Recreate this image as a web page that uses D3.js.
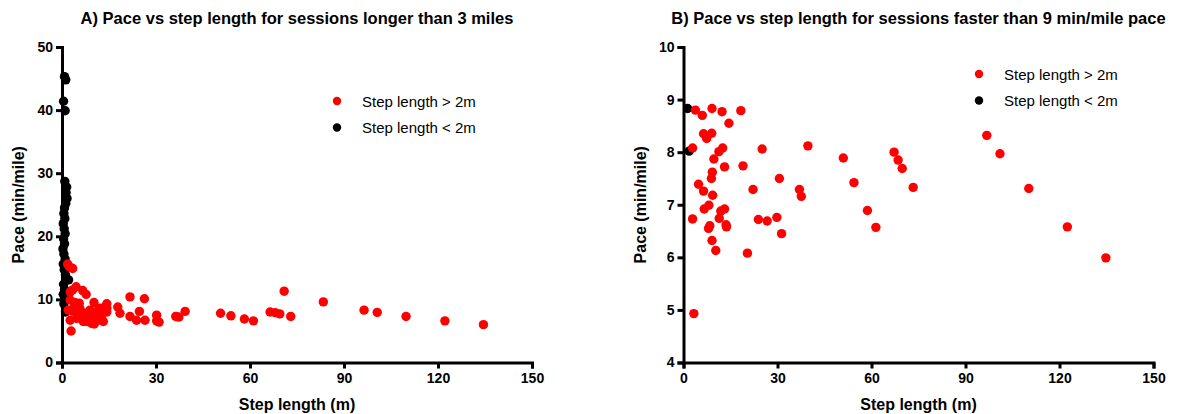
<!DOCTYPE html>
<html lang="en">
<head>
  <meta charset="UTF-8">
  <title>Pace vs step length</title>
  <script src="https://d3js.org/d3.v7.min.js"></script>
  <style>
    body { margin: 0; background: #fff; font-family: "Liberation Sans", Arial, sans-serif; }
    .title { font-size: 16.5px; font-weight: bold; }
    .axis-label { font-size: 16px; font-weight: bold; }
    .legend { font-size: 15px; }
    .axis path, .axis line { stroke: #000; stroke-width: 3px; }
    .axis text { font-size: 14px; font-weight: bold; font-family: "Liberation Sans", Arial, sans-serif; fill: #000; }
  </style>
</head>
<body>
<svg width="1184" height="414"></svg>

<script>
// Panel A: sessions longer than 3 miles  [step length (m), pace (min/mile)]
const aRed = [
  [1.8,15.6],[2.3,15.2],[3.4,14.9],[4.5,12.0],[2.6,11.2],[3.4,11.5],[6.6,11.4],[7.7,10.8],
  [2.6,9.9],[4.1,9.5],[5.5,9.4],[10.2,9.5],[14.3,9.3],[21.7,10.4],[26.3,10.1],[70.9,11.3],[83.4,9.6],
  [17.8,8.8],[18.5,7.8],[24.7,8.1],[21.7,7.3],[23.8,6.7],[26.5,6.7],[30.2,7.5],[30.2,6.6],[31.0,6.4],
  [36.3,7.3],[37.3,7.2],[39.3,8.1],[2.9,5.0],[2.6,6.7],[3.6,8.1],[2.0,8.3],[5.7,7.5],[7.3,7.8],
  [8.9,8.3],[11.1,8.1],[12.1,8.6],[13.7,8.8],[10.0,7.3],[8.4,7.0],[6.8,6.5],[9.5,6.2],[11.6,6.7],
  [13.2,6.5],[4.7,7.0],[5.7,8.6],[3.8,8.8],[14.3,8.0],[12.7,7.5],[7.9,6.5],[10.3,6.1],[9.1,7.6],
  [6.4,7.3],[14.3,8.6],
  [50.6,7.8],[53.9,7.4],[58.2,6.9],[61.1,6.6],[66.4,8.0],[68.0,7.9],[69.5,7.7],[73.0,7.3],
  [96.4,8.3],[100.6,7.95],[109.8,7.3],[122.2,6.6],[134.5,6.0]
];
const aBlack = [
  [0.8,45.3],[1.2,44.8],[0.5,41.4],[1.0,39.9],[0.9,28.7],[1.5,27.8],[1.3,26.9],[1.6,26.0],
  [1.2,25.2],[0.8,24.5],[0.6,23.6],[0.9,22.8],[0.4,22.0],[0.7,21.2],[1.0,20.4],[0.5,19.6],
  [0.8,18.8],[0.3,18.0],[0.6,17.2],[1.0,16.4],[0.4,15.6],[0.7,14.7],[1.1,13.9],[2.1,13.1],
  [0.5,12.4],[0.8,11.6],[0.4,10.8],[0.9,10.0],[0.6,9.3],[1.1,8.0]
];

// Panel B: sessions faster than 9 min/mile pace
const bRed = [
  [3.8,8.80],[6.0,8.70],[9.1,8.83],[12.3,8.77],[18.3,8.79],[14.5,8.55],[6.4,8.35],[9.0,8.36],
  [7.4,8.26],[2.9,8.08],[12.5,8.08],[11.3,8.01],[25.1,8.06],[39.7,8.12],[9.7,7.87],[13.1,7.72],
  [19.0,7.74],[9.2,7.62],[8.9,7.50],[30.6,7.50],[4.8,7.39],[6.4,7.26],[22.2,7.29],[37.0,7.29],
  [9.3,7.18],[37.6,7.16],[6.6,6.92],[8.1,6.99],[2.9,6.73],[11.9,6.88],[13.1,6.92],[11.4,6.74],
  [8.0,6.55],[8.4,6.60],[13.6,6.62],[13.7,6.58],[9.1,6.32],[10.3,6.13],[20.4,6.08],[23.9,6.72],
  [26.7,6.69],[29.8,6.76],[31.3,6.45],[3.3,4.93],
  [51.0,7.89],[54.4,7.42],[58.7,6.89],[61.4,6.57],[67.2,8.00],[68.5,7.85],[69.8,7.69],[73.3,7.33],
  [96.8,8.32],[101.0,7.97],[110.2,7.31],[122.5,6.58],[134.8,5.99]
];
const bBlack = [[1.3,8.83],[1.8,8.02]];

const xTicks = [0, 30, 60, 90, 120, 150];
const aYTicks = [0, 10, 20, 30, 40, 50];
const bYTicks = [4, 5, 6, 7, 8, 9, 10];
const legendLabels = ["Step length > 2m", "Step length < 2m"];
const colors = ["#ff0000", "#000000"];

const svg = d3.select("svg");
const plotTop = 47, plotBottom = 362.5;

const panels = [
  { left: 62, title: "A) Pace vs step length for sessions longer than 3 miles",
    yDomain: [0, 50], yTicks: aYTicks, red: aRed, black: aBlack, legend: [337, 101] },
  { left: 683.5, title: "B) Pace vs step length for sessions faster than 9 min/mile pace",
    yDomain: [4, 10], yTicks: bYTicks, red: bRed, black: bBlack, legend: [979, 74] }
];

panels.forEach(p => {
  const x = d3.scaleLinear().domain([0, 150]).range([p.left, p.left + 470]);
  const y = d3.scaleLinear().domain(p.yDomain).range([plotBottom, plotTop]);

  svg.append("text")
    .attr("class", "title")
    .attr("x", p.left + 235)
    .attr("y", 24)
    .attr("text-anchor", "middle")
    .text(p.title);

  // Axes
  svg.append("g")
    .attr("class", "axis")
    .attr("transform", `translate(0,${plotBottom})`)
    .call(d3.axisBottom(x).tickValues(xTicks).tickFormat(d3.format("d"))
      .tickSizeOuter(0).tickSize(6).tickPadding(5));

  svg.append("g")
    .attr("class", "axis")
    .attr("transform", `translate(${p.left},0)`)
    .call(d3.axisLeft(y).tickValues(p.yTicks).tickFormat(d3.format("d"))
      .tickSizeOuter(0).tickSize(6).tickPadding(3));

  svg.append("text")
    .attr("class", "axis-label")
    .attr("x", p.left + 235)
    .attr("y", 410)
    .attr("text-anchor", "middle")
    .text("Step length (m)");

  svg.append("text")
    .attr("class", "axis-label")
    .attr("transform", `translate(${p.left - 38},${(plotTop + plotBottom) / 2}) rotate(-90)`)
    .attr("text-anchor", "middle")
    .text("Pace (min/mile)");

  // Points
  [p.black, p.red].forEach((set, k) => {
    svg.append("g").selectAll("circle")
      .data(set)
      .enter().append("circle")
      .attr("cx", d => x(d[0]))
      .attr("cy", d => y(d[1]))
      .attr("r", 4.7)
      .attr("fill", k === 0 ? colors[1] : colors[0]);
  });

  // Legend
  const legend = svg.selectAll(null)
    .data(legendLabels)
    .enter().append("g")
    .attr("class", "legend")
    .attr("transform", (d, i) => `translate(${p.legend[0]},${p.legend[1] + i * 26.5})`);

  legend.append("circle")
    .attr("r", 4.2)
    .attr("fill", (d, i) => colors[i]);

  legend.append("text")
    .attr("x", 25)
    .attr("y", 5.5)
    .text(d => d);
});
</script>
</body>
</html>
